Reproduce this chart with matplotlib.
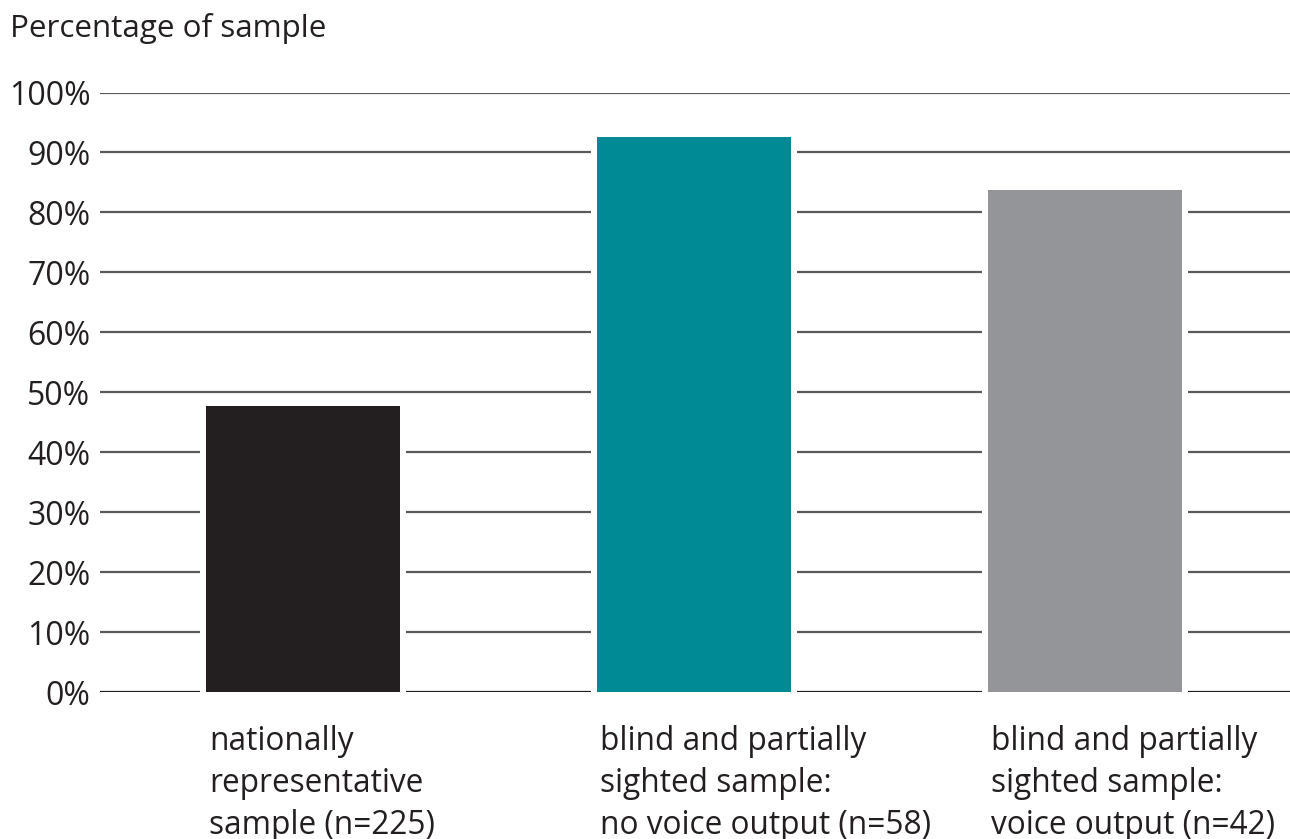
import matplotlib.pyplot as plt
import numpy as np

plt.rcParams['font.family'] = ['Open Sans', 'DejaVu Sans']

categories = ["nationally\nrepresentative\nsample (n=225)",
              "blind and partially\nsighted sample:\nno voice output (n=58)",
              "blind and partially\nsighted sample:\nvoice output (n=42)"]
percentages = [47.8, 92.5, 83.7]
bar_colors = ["#231f20", "#008a96", "#939598"]
y_ticks = [0, 10, 20, 30, 40, 50, 60, 70, 80, 90, 100]

fig = plt.figure(figsize=(12.9, 8.39), dpi=100)
ax = fig.add_axes([100/1290, 1-692.3/839, 1190/1290, 599.8/839])

x = np.arange(len(categories))
bar_w = 194/391
gap_w = 206/391

# white blocks behind the bars cut small gaps in the gridlines
ax.bar(x, np.array(percentages) + 1, bottom=-1, width=gap_w, color="white", zorder=2)
ax.bar(x, percentages, width=bar_w, color=bar_colors, zorder=3)

ax.set_ylim(0, 100)
ax.set_xlim(-203/391, 2 + 205/391)
ax.set_yticks(y_ticks)
ax.set_yticklabels([f"{t}%" for t in y_ticks], fontsize=23, color="#231f20")
ax.tick_params(axis="y", length=0, pad=7)
ax.set_xticks([])
for t in y_ticks:
    ax.axhline(t, color="#5a5a5a" if t else "#231f20", lw=1.6, zorder=1)
for s in ax.spines.values():
    s.set_visible(False)

for xi, lab in zip(x, categories):
    ax.text(xi - bar_w/2 + 3/391, -5.4, lab, ha="left", va="top", fontsize=22.8,
            color="#231f20", linespacing=1.36)

fig.text(10/1290, 1-37/839, "Percentage of sample", ha="left", va="baseline",
         fontsize=22.6, color="#231f20")

plt.savefig("out.png", dpi=100)
